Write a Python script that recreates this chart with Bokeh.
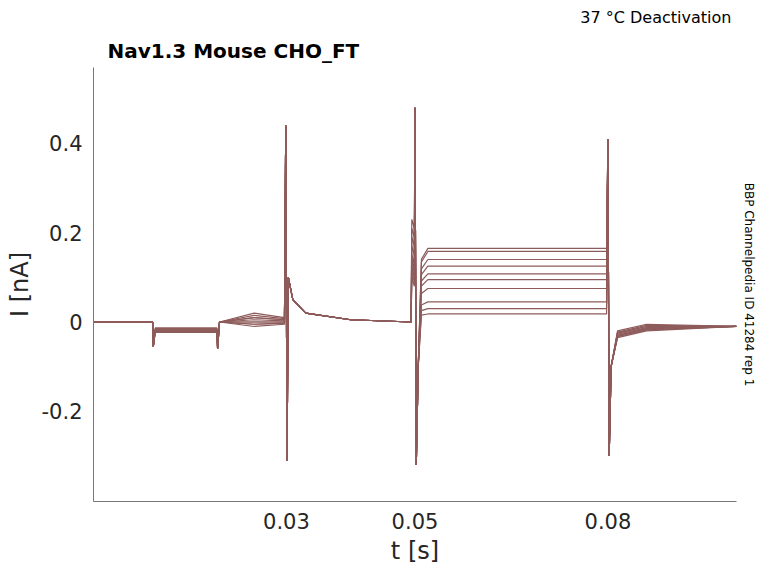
from bokeh.plotting import figure
from bokeh.models import FixedTicker, Range1d, Title
from bokeh.embed import file_html
from bokeh.resources import INLINE

plateau = [0.165, 0.158, 0.14, 0.125, 0.108, 0.095, 0.075, 0.045, 0.03, 0.018]
pre_bump = [0.23, 0.21, 0.19, 0.17, 0.15, 0.14, 0.13, 0.12, 0.11, 0.10]
early = [0.0, 0.01, -0.005, 0.015, 0.005, -0.01, 0.02, 0.0, 0.01, -0.005]
x_ticks = [0.03, 0.05, 0.08]
y_ticks = [-0.2, 0, 0.2, 0.4]

FONT = "DejaVu Sans"
color = "#8e5b5b"
p = figure(width=762, height=567, output_backend="svg", toolbar_location=None,
           x_range=Range1d(0, 0.1), y_range=Range1d(-0.402, 0.57),
           min_border_left=93, min_border_right=20, min_border_top=10, min_border_bottom=63)
p.title.text = "37 °C  Deactivation"
p.title.align = "right"
p.title.text_font = FONT
p.title.text_font_size = "16px"
p.title.text_font_style = "normal"
p.title.text_color = "black"
p.add_layout(Title(text="Nav1.3  Mouse  CHO_FT", text_font=FONT, text_font_size="20px",
                   text_font_style="bold", text_color="black", offset=14), "above")
p.add_layout(Title(text="BBP Channelpedia ID 41284 rep 1", text_font=FONT, text_font_size="12px",
                   text_font_style="normal", text_color="black", align="center"), "right")

for i in range(len(plateau)):
    pl, pb, e = plateau[i], pre_bump[i], early[i]
    t = [0, 0.0092, 0.0093, 0.0096, 0.0192, 0.0193, 0.0196, 0.025, 0.0297, 0.0299, 0.0301, 0.0303, 0.031,
         0.033, 0.04, 0.0494, 0.0495, 0.0499, 0.05, 0.0502, 0.0505, 0.051, 0.052, 0.0798, 0.08, 0.0802,
         0.0805, 0.0815, 0.086, 0.1]
    y = [0.0, 0.0, -0.055, -0.02 + e / 3, -0.02 + e / 3, -0.06, 0.0, e, e / 2, 0.44, -0.31, 0.1, 0.05,
         0.02, 0.005, 0.0, pb, pb - 0.02, 0.48, -0.32, -0.1, pl * 0.85, pl, pl, 0.41, -0.30,
         -0.1, -0.03 + e / 2, -0.015 + e / 2, -0.01]
    p.line(t, y, line_color=color, line_width=1.2)

for ax in (p.xaxis, p.yaxis):
    ax.axis_line_color = "#777777"
    ax.major_tick_line_color = None
    ax.minor_tick_line_color = None
    ax.major_label_text_font = FONT
    ax.major_label_text_font_size = "21px"
    ax.major_label_text_color = "#262626"
    ax.axis_label_text_font = FONT
    ax.axis_label_text_font_size = "24px"
    ax.axis_label_text_font_style = "normal"
    ax.axis_label_text_color = "#262626"
p.xaxis.ticker = FixedTicker(ticks=x_ticks)
p.yaxis.ticker = FixedTicker(ticks=y_ticks)
p.yaxis.major_label_overrides = {-0.2: "-0.2", 0: "0", 0.2: "0.2", 0.4: "0.4"}
p.xaxis.axis_label = "t [s]"
p.yaxis.axis_label = "I [nA]"
p.xgrid.visible = False
p.ygrid.visible = False
p.outline_line_color = None

open("out.html", "w").write(file_html(p, INLINE))
